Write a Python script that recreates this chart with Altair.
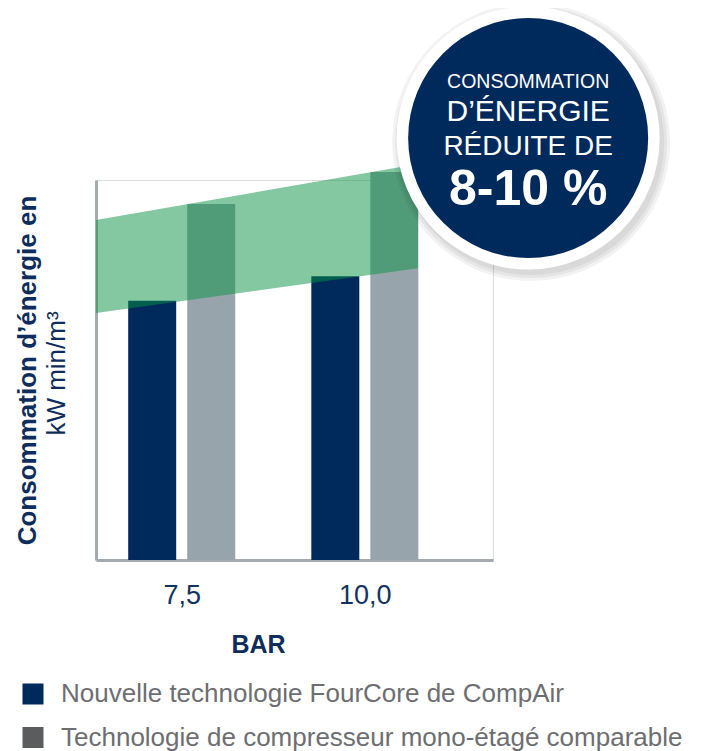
import altair as alt
import pandas as pd

# ---- data ----
pressure = [7.5, 7.5, 10.0, 10.0]
series = ["Nouvelle technologie FourCore de CompAir",
          "Technologie de compresseur mono-étagé comparable",
          "Nouvelle technologie FourCore de CompAir",
          "Technologie de compresseur mono-étagé comparable"]
consumption = [68.2, 93.7, 74.7, 102.1]

band_x = [6.33, 10.726]
band_top = [89.5, 104.2]
band_bottom = [65.0, 76.8]

series_names = ["Nouvelle technologie FourCore de CompAir",
                "Technologie de compresseur mono-étagé comparable"]
bar_colors = ["#002a5c", "#98a4ac"]
legend_colors = ["#002a5c", "#5b5c5e"]

badge_x = [12.23]
badge_y = [111.05]
badge_lines = ["CONSOMMATION", "D’ÉNERGIE", "RÉDUITE DE", "8-10 %"]

NAVY = "#002a5c"
FONT = "Liberation Sans"

bars_df = pd.DataFrame({"bar": pressure, "series": series, "value": consumption})
band_df = pd.DataFrame({"x": band_x, "top": band_top, "bottom": band_bottom})
legend_df = pd.DataFrame({"series": series_names, "x": [7.5, 7.5], "y": [1, 1]})
badge_df = pd.DataFrame({"x": badge_x, "y": badge_y})

xscale = alt.Scale(domain=[6.33, 11.75], nice=False, zero=False, padding=0)
yscale = alt.Scale(domain=[0, 100], nice=False, padding=0)

xaxis = alt.Axis(values=[7.5, 10.0], labelExpr="replace(format(datum.value, '.1f'), '.', ',')",
                 ticks=False, tickSize=0, grid=False, domainColor="#a3abb1", domainWidth=3,
                 labelFontSize=27, labelColor="#13335f", labelFont=FONT,
                 labelBaseline="alphabetic", labelPadding=43, labelFlush=False,
                 title="BAR", titleFontSize=25, titleFont=FONT, titleFontWeight="bold",
                 titleColor="#0f2d5a", titleX=162, titleY=92, titleAlign="center",
                 titleBaseline="alphabetic")
yaxis = alt.Axis(labels=False, ticks=False, grid=False, domainColor="#a3abb1", domainWidth=3,
                 title="Consommation d’énergie en", titleFontSize=26, titleFont=FONT,
                 titleFontWeight="bold", titleColor="#0f2d5a", titleAngle=270,
                 titleX=-61, titleY=190, titleAlign="center", titleBaseline="alphabetic")

base = alt.Chart(bars_df)

color_enc = alt.Color("series:N", scale=alt.Scale(domain=series_names, range=bar_colors), legend=None)

legend_layer = alt.Chart(legend_df).mark_square(opacity=0, size=1).encode(
    x=alt.X("x:Q", scale=xscale, axis=xaxis),
    y=alt.Y("y:Q", scale=yscale, axis=yaxis),
    fill=alt.Fill("series:N", scale=alt.Scale(domain=series_names, range=legend_colors),
                  legend=alt.Legend(title=None, orient="none", legendX=-76, legendY=501,
                                    symbolType="square", symbolSize=441, symbolOpacity=1,
                                    symbolStrokeWidth=0, labelFontSize=26, labelFont=FONT,
                                    labelColor="#6d6e71", labelOffset=15, rowPadding=17.5,
                                    padding=0, labelLimit=700)),
)

navy_bars = base.transform_filter(alt.datum.series == series_names[0]).mark_bar(
    width=48, xOffset=-29.5).encode(
    x=alt.X("bar:Q", scale=xscale, axis=xaxis),
    y=alt.Y("value:Q", scale=yscale, axis=yaxis),
    color=color_enc,
)
gray_bars = base.transform_filter(alt.datum.series == series_names[1]).mark_bar(
    width=48, xOffset=29.5).encode(
    x=alt.X("bar:Q", scale=xscale),
    y=alt.Y("value:Q", scale=yscale),
    color=color_enc,
)

band = alt.Chart(band_df).mark_area(color="#079243", opacity=0.5).encode(
    x=alt.X("x:Q", scale=xscale),
    y=alt.Y("top:Q", scale=yscale),
    y2="bottom:Q",
)

unit_label = alt.Chart(badge_df).mark_text(
    text="kW min/m³", angle=270, fontSize=26, font=FONT, fontWeight=300,
    color="#0f2d5a", align="center", baseline="alphabetic").encode(
    x=alt.value(-31), y=alt.value(193.5))

def circ(size, color, opacity, dx=0, dy=0):
    return alt.Chart(badge_df).mark_circle(size=size, color=color, opacity=opacity,
                                           xOffset=dx, yOffset=dy).encode(
        x=alt.X("x:Q", scale=xscale), y=alt.Y("y:Q", scale=yscale))

shadows = [circ(d * d, "#000000", 0.05, 3, 4) for d in (278, 272, 266)]
ring = circ(263 * 263, "#ffffff", 1)
disc = circ(240 * 240, NAVY, 1)

def btxt(text, size, dy, weight="normal"):
    return alt.Chart(badge_df).mark_text(text=text, fontSize=size, font=FONT, fontWeight=weight,
                                         color="#ffffff", align="center", baseline="alphabetic",
                                         dy=dy).encode(
        x=alt.X("x:Q", scale=xscale), y=alt.Y("y:Q", scale=yscale))

texts = [btxt(badge_lines[0], 19.5, -50.5), btxt(badge_lines[1], 30, -17.3),
         btxt(badge_lines[2], 28, 17), btxt(badge_lines[3], 50, 67, "bold")]

chart = alt.layer(legend_layer, navy_bars, gray_bars, band, unit_label, *shadows, ring, disc, *texts).resolve_scale(
    color="independent").properties(
    width=397, height=380,
    padding={"left": 88, "top": 172, "right": 203, "bottom": 191},
    autosize=alt.AutoSizeParams(type="none"),
).configure_view(strokeWidth=0).configure(font=FONT)

chart.save("out.html", embed_options={"renderer": "svg", "actions": False})
